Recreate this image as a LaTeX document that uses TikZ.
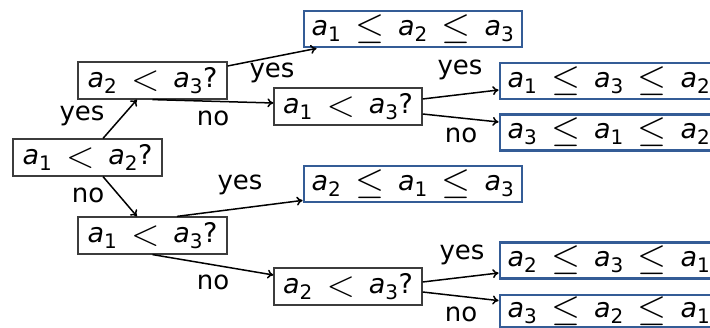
\documentclass[tikz,border=0pt]{standalone}
\usepackage{amsmath}
\usepackage{graphicx}
\usepackage{fontspec}
\setmainfont{DejaVu Sans}
\usetikzlibrary{calc,arrows.meta}

\definecolor{leafblue}{RGB}{52,92,150}
\definecolor{boxgray}{RGB}{60,60,60}

\newcommand\va[1]{\textit{a}_{\hbox{\fontsize{20}{20}\selectfont #1}}}
\newcommand\lt{\mathrel{\mkern5mu\vcenter{\hbox{\scalebox{1.5}{$<$}}}\mkern5mu}}
\newcommand\lle{\mathrel{\mkern5mu\vcenter{\hbox{\scalebox{1.5}{$\leq$}}}\mkern5mu}}

\tikzset{every picture/.style={line width=1.5pt}}
\tikzset{
  qbox/.style={draw=boxgray,line width=1.2pt,minimum width=149pt,minimum height=37pt,inner sep=0pt,font=\fontsize{27}{32}\selectfont},
  leafbox/.style={draw=leafblue,line width=2.8pt,minimum width=218pt,minimum height=36pt,inner sep=0pt,font=\fontsize{27}{32}\selectfont},
  lbl/.style={inner sep=0pt,font=\fontsize{26}{30}\selectfont},
  arr/.style={-{To[length=6pt,width=9pt]},line width=1.5pt}
}

\begin{document}
\begin{tikzpicture}[x=1pt,y=1pt,yscale=-1]
\useasboundingbox (0,0) rectangle (710,328);
\clip (0,0) rectangle (710,328);

% Questions
\node[qbox] (r)  at (87.5,157.5) {$\va1\lt\va2$?};
\node[qbox] (q2) at (152.5,80.5) {$\va2\lt\va3$?};
\node[qbox] (q3) at (152.5,235.5) {$\va1\lt\va3$?};
\node[qbox,minimum width=148pt] (q4) at (348,106.5) {$\va1\lt\va3$?};
\node[qbox,minimum width=148pt] (q5) at (348,286.5) {$\va2\lt\va3$?};

% Leaves
\node[leafbox] (l1) at (413,29) {$\va1\lle\va2\lle\va3$};
\node[leafbox] (l2) at (609,81) {$\va1\lle\va3\lle\va2$};
\node[leafbox] (l3) at (609,132.5) {$\va3\lle\va1\lle\va2$};
\node[leafbox] (l4) at (413,184) {$\va2\lle\va1\lle\va3$};
\node[leafbox] (l5) at (609,260.5) {$\va2\lle\va3\lle\va1$};
\node[leafbox,minimum height=32pt] (l6) at (609,311) {$\va3\lle\va2\lle\va1$};

% Labels
\node[lbl] (y1) at (82,116) {yes};
\node[lbl] (n1) at (88,195) {no};
\node[lbl] (y2) at (272,73) {yes};
\node[lbl] (n2) at (213,118) {no};
\node[lbl] (y3) at (460,70) {yes};
\node[lbl] (n3) at (461,135) {no};
\node[lbl] (y4) at (240,185) {yes};
\node[lbl] (n4) at (213,282) {no};
\node[lbl] (y5) at (462,255) {yes};
\node[lbl] (n5) at (461,314) {no};

% Arrows
\draw[arr] ($(r.north)+(15.5,0)$) -- ($(q2.south)+(-15.5,0)$);
\draw[arr] ($(r.south)+(15.5,0)$) -- ($(q3.north)+(-15.5,0)$);
\draw[arr] ($(q2.east)+(0,-14.5)$) -- ($(l1.south west)+(14,0)$);
\draw[arr] (q2.south) -- ($(q4.west)+(0,-3.5)$);
\draw[arr] ($(q4.east)+(0,-7.5)$) -- ($(l2.west)+(0,9)$);
\draw[arr] ($(q4.east)+(0,7.5)$) -- ($(l3.west)+(0,-10.5)$);
\draw[arr] ($(q3.north)+(24.5,0)$) -- ($(l4.south west)+(0,-3)$);
\draw[arr] (q3.south) -- ($(q5.west)+(0,-11.5)$);
\draw[arr] ($(q5.east)+(0,-4.5)$) -- ($(l5.west)+(0,12.5)$);
\draw[arr] ($(q5.east)+(0,5.5)$) -- ($(l6.north west)+(0,7)$);

\end{tikzpicture}
\end{document}
